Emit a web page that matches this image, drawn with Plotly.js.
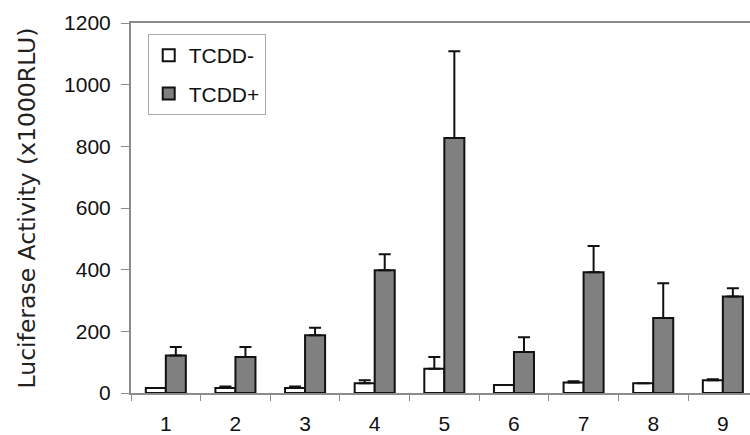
<!DOCTYPE html>
<html>
<head>
<meta charset="utf-8">
<script src="https://cdn.plot.ly/plotly-3.0.1.min.js"></script>
<style>html,body{margin:0;padding:0;background:#fff;}#chart{width:750px;height:435px;}</style>
</head>
<body>
<div id="chart"></div>
<script>
const categories = ["1", "2", "3", "4", "5", "6", "7", "8", "9"];
const tcddMinus = [16, 16, 16, 32, 79, 26, 34, 32, 41];
const tcddMinusErr = [0, 5, 5, 9, 38, 0, 4, 0, 4];
const tcddPlus = [122, 117, 187, 398, 827, 133, 392, 243, 313];
const tcddPlusErr = [27, 32, 25, 52, 281, 48, 85, 113, 27];
const yTicks = [0, 200, 400, 600, 800, 1000, 1200];

const zeros = categories.map(() => 0);

const traces = [
  {
    type: "bar", name: "TCDD-", x: categories, y: tcddMinus,
    legendgroup: "a",
    marker: {color: "#ffffff", line: {color: "#111111", width: 2}},
    error_y: {type: "data", array: tcddMinusErr, arrayminus: zeros, symmetric: false,
              color: "#111111", thickness: 2, width: 6}
  },
  {
    type: "bar", name: "TCDD+", x: categories, y: tcddPlus,
    legendgroup: "b",
    marker: {color: "#808080", line: {color: "#111111", width: 2}},
    error_y: {type: "data", array: tcddPlusErr, arrayminus: zeros, symmetric: false,
              color: "#111111", thickness: 2, width: 6}
  }
];

const layout = {
  width: 750, height: 435,
  margin: {l: 131, r: 0, t: 23, b: 42},
  paper_bgcolor: "#ffffff", plot_bgcolor: "#ffffff",
  barmode: "group", bargap: 0.425, bargroupgap: 0,
  font: {family: "Liberation Sans, Arial, sans-serif", size: 20, color: "#111111"},
  showlegend: true,
  legend: {
    x: 0.027, y: 0.97, xanchor: "left", yanchor: "top",
    bordercolor: "#aaaaaa", borderwidth: 1, bgcolor: "#ffffff",
    font: {size: 21, color: "#111111"},
    traceorder: "grouped", tracegroupgap: 8, itemwidth: 30
  },
  xaxis: {
    type: "category", range: [-0.5, 8.39],
    showline: true, linecolor: "#8c8c8c", linewidth: 2,
    mirror: true,
    ticks: "outside", tickson: "boundaries", ticklen: 6, tickcolor: "#8c8c8c", tickwidth: 1,
    showgrid: false, zeroline: false,
    tickfont: {size: 21}, ticklabelstandoff: 11
  },
  yaxis: {
    range: [0, 1200], tickvals: yTicks, ticktext: yTicks.map(String),
    showline: true, linecolor: "#8c8c8c", linewidth: 2,
    ticks: "outside", ticklen: 8, tickcolor: "#8c8c8c", tickwidth: 1,
    showgrid: false, zeroline: false,
    tickfont: {size: 21}, ticklabelstandoff: 6,
    title: {text: "Luciferase Activity (x1000RLU)", standoff: 22,
            font: {family: "DejaVu Sans, sans-serif", size: 23.5, color: "#222222"}}
  }
};

Plotly.newPlot("chart", traces, layout, {displayModeBar: false, staticPlot: true});
</script>
</body>
</html>
